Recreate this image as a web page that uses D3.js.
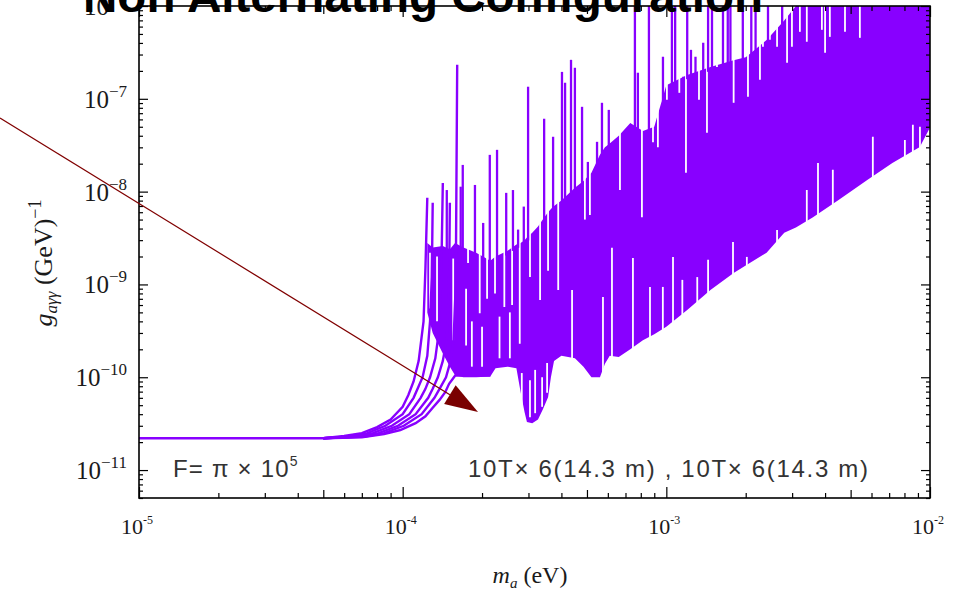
<!DOCTYPE html>
<html>
<head>
<meta charset="utf-8">
<script src="https://cdn.jsdelivr.net/npm/d3@7"></script>
<style>
  body { margin: 0; background: #fff; }
  svg { display: block; }
</style>
</head>
<body>
<div id="chart"></div>
<script>
// --- data (m_a in eV, g in GeV^-1) ---

// six low-mass branches that leave the flat floor and turn up
const curveA = [[1e-5,2.2e-11],[5e-5,2.2e-11],[6e-5,2.33e-11],[7e-5,2.5e-11],[8e-5,2.9e-11],[9e-5,3.5e-11],[1e-4,4.8e-11],[1.05e-4,6.4e-11],[1.1e-4,9e-11],[1.15e-4,1.5e-10],[1.2e-4,4e-10],[1.22e-4,1.5e-9],[1.24e-4,8.6e-9]];
const curveB = [[5e-5,2.2e-11],[6.3e-5,2.3e-11],[7.35e-5,2.5e-11],[8.6e-5,3e-11],[1e-4,4e-11],[1.1e-4,6e-11],[1.15e-4,8e-11],[1.19e-4,1e-10],[1.24e-4,1.7e-10],[1.27e-4,4e-10],[1.29e-4,1.2e-9],[1.3e-4,7.6e-9]];
const curveC = [[5e-5,2.2e-11],[6.6e-5,2.3e-11],[7.7e-5,2.5e-11],[9.1e-5,3e-11],[1.06e-4,4e-11],[1.17e-4,6e-11],[1.22e-4,7.5e-11],[1.27e-4,1e-10],[1.33e-4,1.6e-10],[1.37e-4,3e-10],[1.4e-4,1.1e-9],[1.42e-4,1.24e-8]];
const curveD = [[5e-5,2.2e-11],[6.9e-5,2.3e-11],[8.1e-5,2.5e-11],[9.6e-5,3e-11],[1.12e-4,4e-11],[1.25e-4,6e-11],[1.3e-4,7.5e-11],[1.36e-4,1e-10],[1.42e-4,1.5e-10],[1.47e-4,2.6e-10],[1.5e-4,1e-9],[1.51e-4,7.6e-9]];
const curveE = [[5e-5,2.2e-11],[7.2e-5,2.3e-11],[8.5e-5,2.5e-11],[1.01e-4,3e-11],[1.18e-4,4e-11],[1.32e-4,6e-11],[1.38e-4,7.5e-11],[1.46e-4,1e-10],[1.52e-4,1.5e-10],[1.56e-4,2.5e-10],[1.59e-4,1e-9],[1.61e-4,2.33e-7]];
const curveF = [[5e-5,2.2e-11],[7e-5,2.25e-11],[8.5e-5,2.44e-11],[9.8e-5,2.7e-11],[1.12e-4,3.2e-11],[1.22e-4,3.8e-11],[1.3e-4,4.7e-11],[1.38e-4,5.7e-11],[1.45e-4,6.9e-11],[1.5e-4,8.5e-11],[1.58e-4,1.04e-10],[2.15e-4,1.04e-10]];
const curves = [curveA, curveB, curveC, curveD, curveE, curveF];

// dense oscillation band: [mass, lower edge, upper edge]
const band = [
  [1.24e-4, 5.0e-10, 2.8e-9], [1.30e-4, 3.0e-10, 2.5e-9], [1.42e-4, 1.8e-10, 2.6e-9],
  [1.51e-4, 1.3e-10, 2.4e-9], [1.58e-4, 1.05e-10, 2.8e-9], [1.70e-4, 1.0e-10, 2.5e-9],
  [1.90e-4, 1.0e-10, 2.2e-9], [2.15e-4, 1.02e-10, 1.8e-9], [2.25e-4, 1.25e-10, 2.0e-9],
  [2.50e-4, 1.3e-10, 2.3e-9], [2.70e-4, 1.25e-10, 2.7e-9], [2.80e-4, 7.0e-11, 2.8e-9],
  [2.90e-4, 4.2e-11, 3.0e-9], [2.96e-4, 3.3e-11, 3.2e-9], [3.10e-4, 3.2e-11, 3.6e-9],
  [3.26e-4, 3.5e-11, 4.2e-9], [3.40e-4, 4.5e-11, 5.0e-9], [3.56e-4, 6.1e-11, 6.0e-9],
  [3.65e-4, 1.0e-10, 6.5e-9], [3.75e-4, 1.5e-10, 7.0e-9], [4.00e-4, 1.7e-10, 8.0e-9],
  [4.50e-4, 1.6e-10, 1.1e-8], [4.85e-4, 1.3e-10, 1.3e-8], [5.20e-4, 1.0e-10, 1.6e-8],
  [5.60e-4, 1.0e-10, 2.5e-8], [5.85e-4, 1.4e-10, 3.0e-8], [6.10e-4, 1.7e-10, 3.3e-8],
  [6.60e-4, 1.65e-10, 4.0e-8], [7.30e-4, 2.0e-10, 5.5e-8], [8.15e-4, 2.5e-10, 4.5e-8],
  [9.00e-4, 2.9e-10, 5.0e-8], [1.00e-3, 3.5e-10, 1.4e-7], [1.20e-3, 5.3e-10, 1.8e-7],
  [1.47e-3, 8.7e-10, 2.2e-7], [1.80e-3, 1.33e-9, 2.6e-7], [2.00e-3, 1.6e-9, 2.8e-7],
  [2.40e-3, 2.2e-9, 4.3e-7], [2.80e-3, 3.6e-9, 7.0e-7], [3.10e-3, 4.1e-9, 1.0e-6],
  [3.60e-3, 5.3e-9, 1.0e-6], [4.50e-3, 8.1e-9, 1.0e-6], [5.80e-3, 1.34e-8, 1.0e-6],
  [7.20e-3, 2.04e-8, 1.0e-6], [9.15e-3, 3.03e-8, 1.0e-6], [1.00e-2, 4.9e-8, 1.0e-6]
];

// resonance spikes rising above the band: [mass, peak]
const spikes = [
  [1.47e-4, 1.04e-8], [1.66e-4, 1.13e-8], [1.69e-4, 1.94e-8], [1.88e-4, 1.18e-8],
  [2.02e-4, 4.6e-9], [2.14e-4, 2.49e-8], [2.28e-4, 2.82e-8], [2.47e-4, 9.7e-9],
  [2.62e-4, 1.04e-8], [2.74e-4, 3.9e-9], [2.88e-4, 6.9e-9], [2.99e-4, 1.35e-7],
  [3.18e-4, 3.25e-9], [3.44e-4, 6.1e-8], [3.72e-4, 3.9e-8], [4.02e-4, 1.95e-7],
  [4.13e-4, 1.49e-7], [4.35e-4, 2.63e-7], [4.5e-4, 2.16e-7], [4.79e-4, 8.2e-8],
  [5.04e-4, 2.09e-8], [5.46e-4, 3.44e-8], [5.7e-4, 9.06e-8], [6.05e-4, 7.6e-8],
  [7.6e-4, 1e-6], [7.8e-4, 1.91e-7], [8.59e-4, 1e-6], [9.71e-4, 2.84e-7],
  [1.05e-3, 1e-6], [1.08e-3, 1e-6], [1.16e-3, 1.73e-7], [1.2e-3, 1e-6],
  [1.24e-3, 3.37e-7], [1.29e-3, 2.84e-7], [1.38e-3, 4.02e-7], [1.44e-3, 1e-6],
  [1.49e-3, 1e-6], [1.64e-3, 1e-6], [1.71e-3, 1e-6], [1.75e-3, 1e-6],
  [1.95e-3, 1e-6], [2.1e-3, 1e-6], [2.18e-3, 1e-6], [2.43e-3, 1e-6], [2.75e-3, 1e-6]
];

// narrow minima cutting down from above: [mass, lowest value]
const dipsDown = [
  [1.77e-4, 1.7e-9], [1.96e-4, 4.9e-10], [2.09e-4, 7e-10], [2.24e-4, 8e-10],
  [2.43e-4, 5.7e-10], [2.6e-4, 6e-10], [2.78e-4, 2.3e-10], [3.04e-4, 1.2e-9],
  [3.32e-4, 6.8e-10], [3.56e-4, 1.4e-9], [3.89e-4, 8.7e-10], [4.2e-4, 1.13e-8],
  [4.91e-4, 5e-9], [5.13e-4, 5.6e-9], [6.25e-4, 5e-8], [6.67e-4, 1.04e-8],
  [7.35e-4, 5.9e-8], [8.08e-4, 5.3e-9], [8.9e-4, 3.4e-8], [9.29e-4, 3e-8],
  [1.005e-3, 9.75e-8], [1.12e-3, 1.16e-7], [1.187e-3, 1.6e-8], [1.33e-3, 9.75e-8],
  [1.426e-3, 4.3e-8], [1.556e-3, 2.2e-7], [1.8e-3, 9.06e-8], [2.04e-3, 1.05e-7],
  [2.265e-3, 1.6e-7], [2.325e-3, 3.64e-7], [2.47e-3, 4.33e-7], [2.63e-3, 3.64e-7],
  [2.87e-3, 2.44e-7], [2.995e-3, 3.64e-7], [3.21e-3, 5.27e-7], [3.41e-3, 4.12e-7],
  [3.89e-3, 5.54e-7], [4.0e-3, 3.13e-7], [4.17e-3, 4.65e-7], [4.76e-3, 5.27e-7],
  [5.42e-3, 4.54e-7]
];

// narrow maxima of the lower edge, cutting up from below: [mass, highest value]
const dipsUp = [
  [4.39e-4, 8.7e-10], [5.75e-4, 7.3e-10], [6.22e-4, 2.48e-9], [7.47e-4, 1.93e-9],
  [8.67e-4, 9.4e-10], [9.7e-4, 9.4e-10], [1.06e-3, 1.98e-9], [1.15e-3, 1.12e-9],
  [1.31e-3, 1.2e-9], [1.44e-3, 1.84e-9], [1.79e-3, 2.87e-9], [2.02e-3, 1.98e-9],
  [2.63e-3, 3.87e-9], [3.41e-3, 1.04e-8], [3.76e-3, 2.04e-8], [4.28e-3, 1.72e-8],
  [6.07e-3, 3.89e-8], [8.03e-3, 3.6e-8], [8.61e-3, 5.25e-8], [9.16e-3, 5e-8]
];

// gaps between overlapping branches inside the band: [mass, from, to]
const holes = [
  [1.27e-4, 5.5e-10, 2.2e-9], [1.35e-4, 4e-10, 2.0e-9], [1.555e-4, 2.5e-10, 1.9e-9],
  [1.74e-4, 2.2e-10, 9e-10], [1.83e-4, 1.3e-10, 4e-10], [2.0e-4, 1.3e-10, 3.5e-10],
  [2.33e-4, 1.6e-10, 4.5e-10], [2.55e-4, 1.6e-10, 5e-10],
  [2.83e-4, 4.1e-11, 1.11e-10], [3.04e-4, 3.7e-11, 9.3e-11],
  [3.18e-4, 4.1e-11, 1.2e-10], [3.38e-4, 4.8e-11, 1.0e-10], [3.53e-4, 6.8e-11, 1.42e-10]
];

const xTickExps = [-5, -4, -3, -2];
const yTickExps = [-11, -10, -9, -8, -7, -6];

// --- layout ---
const W = 968, H = 590;
const M = { left: 139, right: 930, top: 6, bottom: 498 };
const PURPLE = '#8800ff';
const SERIF = '"Liberation Serif", "Times New Roman", serif';
const SANS = '"Liberation Sans", Arial, Helvetica, sans-serif';

const x = d3.scaleLog().domain([1e-5, 1e-2]).range([M.left, M.right]);
const y = d3.scaleLog().domain([5e-12, 1e-6]).range([M.bottom, M.top]);

const svg = d3.select('#chart').append('svg')
  .attr('width', W).attr('height', H)
  .attr('viewBox', `0 0 ${W} ${H}`);

svg.append('defs').append('clipPath').attr('id', 'plotClip')
  .append('rect')
  .attr('x', M.left).attr('y', M.top)
  .attr('width', M.right - M.left).attr('height', M.bottom - M.top);

const plot = svg.append('g').attr('clip-path', 'url(#plotClip)');

// band body
const area = d3.area()
  .x(d => x(d[0]))
  .y0(d => y(d[1]))
  .y1(d => y(d[2]));

plot.append('path')
  .datum(band)
  .attr('d', area)
  .attr('fill', PURPLE);

// white slits
const vline = (sel, x1, y1, y2, color, w) => sel
  .attr('x1', x1).attr('x2', x1)
  .attr('y1', y1).attr('y2', y2)
  .attr('stroke', color).attr('stroke-width', w);

plot.selectAll('line.hole').data(holes).join('line')
  .attr('class', 'hole')
  .call(s => vline(s, d => x(d[0]), d => y(d[1]), d => y(d[2]), '#fff', 1.8));

plot.selectAll('line.dipdown').data(dipsDown).join('line')
  .attr('class', 'dipdown')
  .call(s => vline(s, d => x(d[0]), M.top, d => y(d[1]), '#fff', 1.8));

plot.selectAll('line.dipup').data(dipsUp).join('line')
  .attr('class', 'dipup')
  .call(s => vline(s, d => x(d[0]), M.bottom, d => y(d[1]), '#fff', 1.8));

// branches
const line = d3.line().x(d => x(d[0])).y(d => y(d[1]));

plot.selectAll('path.curve').data(curves).join('path')
  .attr('class', 'curve')
  .attr('d', line)
  .attr('fill', 'none')
  .attr('stroke', PURPLE)
  .attr('stroke-width', 2.4);

// spikes start from the band's upper edge at that mass
const bisect = d3.bisector(d => d[0]).left;
function bandTop(m) {
  const i = bisect(band, m);
  if (i <= 0) return band[0][2];
  if (i >= band.length) return band[band.length - 1][2];
  const a = band[i - 1], b = band[i];
  const t = Math.log(m / a[0]) / Math.log(b[0] / a[0]);
  return Math.exp(Math.log(a[2]) + t * Math.log(b[2] / a[2]));
}

plot.selectAll('line.spike').data(spikes).join('line')
  .attr('class', 'spike')
  .call(s => vline(s, d => x(d[0]), d => y(bandTop(d[0])) + 4, d => y(d[1]), PURPLE, 2.3));

// --- axes: ticks inside on all four sides ---
const xTicks = x.ticks();
const yTicks = y.ticks();
const isDecade = v => Math.abs(Math.log10(v) - Math.round(Math.log10(v))) < 1e-6;
const isFive = v => Math.abs(v / Math.pow(10, Math.floor(Math.log10(v) + 1e-9)) - 5) < 1e-6;

function tickAxes(axisFn, scale, ticks, transform, big, mid, small) {
  const groups = [
    ticks.filter(isDecade),
    ticks.filter(v => !isDecade(v) && isFive(v)),
    ticks.filter(v => !isDecade(v) && !isFive(v))
  ];
  [big, mid, small].forEach((len, k) => {
    svg.append('g')
      .attr('transform', transform)
      .call(axisFn(scale).tickValues(groups[k]).tickSize(-len).tickFormat(''))
      .call(g => g.select('.domain').remove())
      .call(g => g.selectAll('line').attr('stroke', '#000').attr('stroke-width', 1.2));
  });
}

tickAxes(d3.axisBottom, x, xTicks, `translate(0,${M.bottom})`, 11, 8, 5);
tickAxes(d3.axisTop, x, xTicks, `translate(0,${M.top})`, 11, 8, 5);
tickAxes(d3.axisLeft, y, yTicks, `translate(${M.left},0)`, 9, 4, 4);
tickAxes(d3.axisRight, y, yTicks, `translate(${M.right},0)`, 9, 4, 4);

svg.append('rect')
  .attr('x', M.left).attr('y', M.top)
  .attr('width', M.right - M.left).attr('height', M.bottom - M.top)
  .attr('fill', 'none').attr('stroke', '#000').attr('stroke-width', 1.6);

// tick labels
const xl = svg.append('g').attr('font-family', SERIF).attr('fill', '#1a1a1a');
xTickExps.forEach(e => {
  const t = xl.append('text')
    .attr('x', x(Math.pow(10, e)) - 2)
    .attr('y', 534)
    .attr('text-anchor', 'middle')
    .attr('font-size', 22);
  t.append('tspan').text('10');
  t.append('tspan').attr('font-size', 12).attr('dy', -10).text(String(e));
});

const yl = svg.append('g').attr('font-family', SERIF).attr('fill', '#1a1a1a');
yTickExps.forEach(e => {
  const t = yl.append('text')
    .attr('x', 127)
    .attr('y', y(Math.pow(10, e)) + 9)
    .attr('text-anchor', 'end')
    .attr('font-size', 25);
  t.append('tspan').text('10');
  t.append('tspan').attr('font-size', 17).attr('dy', -11).text('\u2212' + Math.abs(e));
});

// axis titles
const xt = svg.append('text')
  .attr('x', 530).attr('y', 583)
  .attr('text-anchor', 'middle')
  .attr('font-family', SERIF).attr('font-size', 24).attr('fill', '#1a1a1a');
xt.append('tspan').attr('font-style', 'italic').text('m');
xt.append('tspan').attr('font-style', 'italic').attr('font-size', 15).attr('dy', 5).text('a');
xt.append('tspan').attr('dy', -5).text(' (eV)');

const yt = svg.append('text')
  .attr('transform', 'translate(52,263) rotate(-90)')
  .attr('text-anchor', 'middle')
  .attr('font-family', SERIF).attr('font-size', 26).attr('fill', '#1a1a1a');
yt.append('tspan').attr('font-style', 'italic').text('g');
yt.append('tspan').attr('font-style', 'italic').attr('font-size', 17).attr('dy', 5).text('a\u03b3\u03b3');
yt.append('tspan').attr('dy', -5).text(' (GeV)');
yt.append('tspan').attr('font-size', 18).attr('dy', -11).text('\u22121');

// in-plot notes
const f = svg.append('text')
  .attr('x', 173).attr('y', 477)
  .attr('font-family', SANS).attr('font-size', 24)
  .attr('letter-spacing', 1.2).attr('fill', '#333');
f.append('tspan').text('F= \u03c0 \u00d7 10');
f.append('tspan').attr('font-size', 14).attr('dy', -11).text('5');

svg.append('text')
  .attr('x', 468).attr('y', 477)
  .attr('font-family', SANS).attr('font-size', 24)
  .attr('textLength', 400).attr('lengthAdjust', 'spacing')
  .attr('fill', '#333')
  .text('10T\u00d7 6(14.3 m) , 10T\u00d7 6(14.3 m)');

// annotation arrow
const tail = [0, 118], tip = [478, 412];
const headLen = 33, headHalf = 11;
const len = Math.hypot(tip[0] - tail[0], tip[1] - tail[1]);
const ux = (tip[0] - tail[0]) / len, uy = (tip[1] - tail[1]) / len;
const bx = tip[0] - ux * headLen, by = tip[1] - uy * headLen;
svg.append('line')
  .attr('x1', tail[0]).attr('y1', tail[1])
  .attr('x2', bx).attr('y2', by)
  .attr('stroke', '#800000').attr('stroke-width', 1.2);
svg.append('polygon')
  .attr('points', [
    tip,
    [bx - uy * headHalf, by + ux * headHalf],
    [bx + uy * headHalf, by - ux * headHalf]
  ].map(p => p.join(',')).join(' '))
  .attr('fill', '#7a0000');

// title, clipped by the top of the page
svg.append('text')
  .attr('x', 423).attr('y', 12)
  .attr('text-anchor', 'middle')
  .attr('font-family', SANS).attr('font-weight', 'bold').attr('font-size', 46)
  .attr('textLength', 680).attr('lengthAdjust', 'spacingAndGlyphs')
  .attr('fill', '#000')
  .text('Non Alternating Configuration');
</script>
</body>
</html>
